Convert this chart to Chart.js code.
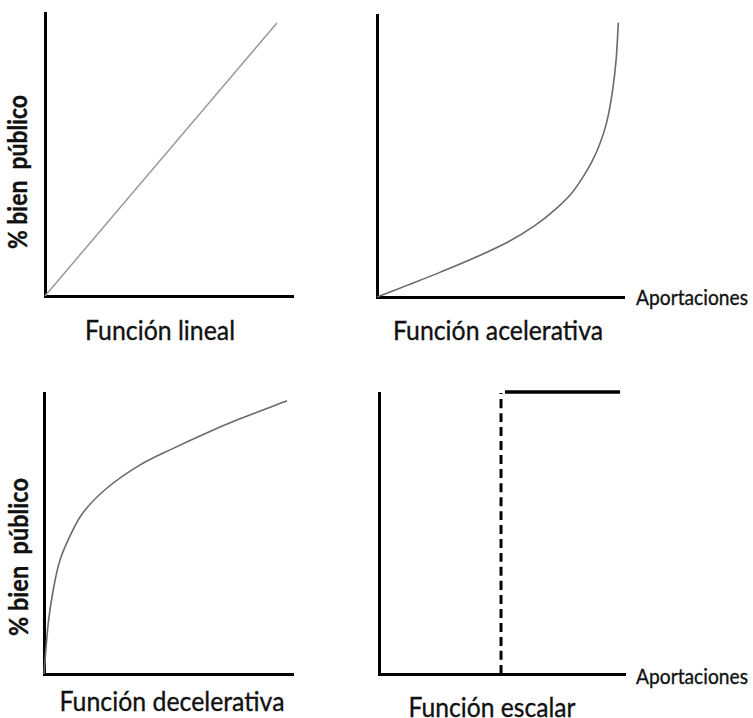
<!DOCTYPE html>
<html>
<head>
<meta charset="utf-8">
<script src="https://cdn.jsdelivr.net/npm/chart.js@4.4.1/dist/chart.umd.min.js"></script>
<style>
  html, body { margin: 0; padding: 0; background: #fff; }
  #page { position: relative; width: 753px; height: 718px; overflow: hidden; background: #fff; }
  .panel { position: absolute; }
  .lbl { position: absolute; font-family: Lato, "Open Sans", sans-serif; color: #111; white-space: pre; line-height: 1; -webkit-text-stroke: 0.35px #111; }
</style>
</head>
<body>
<div id="page"></div>
<script>
// ---- data (axes run 0..100 in both directions) ----
const panelTitles = ['Función lineal', 'Función acelerativa', 'Función decelerativa', 'Función escalar'];
const yAxisLabel = '% bien  público';
const xAxisLabel = 'Aportaciones';

const linearX = [0, 93.5];
const linearY = [0, 96.5];

const accelX = [0, 12.7, 26.2, 39.7, 53.2, 64.0, 72.1, 78.8, 83.5, 87.0, 90.0, 93.0, 95.2, 96.8, 97.7];
const accelY = [0, 4.3, 9.0, 14.0, 19.6, 25.4, 31.0, 36.8, 42.7, 48.0, 53.8, 62.0, 72.2, 84.0, 97.3];

const decelX = [0, 1.7, 3.7, 6.4, 10.8, 15.8, 25.2, 38.6, 51.9, 65.3, 78.7, 97.6];
const decelY = [0, 18.0, 29.9, 40.5, 49.8, 57.6, 66.1, 74.4, 80.3, 85.8, 90.8, 97.2];

const stepDashX = [49.6, 49.6];
const stepDashY = [0, 100];
const stepTopX = [51.2, 98];
const stepTopY = [100.4, 100.4];

const PAD = 6;
const SQUEEZE = 1.12; // the original face is narrower than Lato
const page = document.getElementById('page');

const toPts = (xs, ys) => xs.map((x, i) => ({ x: x, y: ys[i] }));

function axisOpts() {
  return {
    type: 'linear', min: 0, max: 100,
    grid: { display: false, drawTicks: false },
    ticks: { display: false },
    border: { display: true, color: '#000', width: 3 }
  };
}

// area = the plot rectangle in page pixels {l, t, r, b}
function makePanel(area, datasets) {
  const div = document.createElement('div');
  div.className = 'panel';
  div.style.left = (area.l - PAD) + 'px';
  div.style.top = (area.t - PAD) + 'px';
  div.style.width = (area.r - area.l + 2 * PAD) + 'px';
  div.style.height = (area.b - area.t + 2 * PAD) + 'px';
  const canvas = document.createElement('canvas');
  div.appendChild(canvas);
  page.appendChild(div);

  new Chart(canvas.getContext('2d'), {
    type: 'line',
    data: { datasets: datasets },
    options: {
      responsive: true,
      maintainAspectRatio: false,
      animation: false,
      layout: { padding: PAD },
      plugins: { legend: { display: false }, tooltip: { enabled: false } },
      elements: { point: { radius: 0 } },
      scales: { x: axisOpts(), y: axisOpts() }
    }
  });
}

function curve(xs, ys, color, width, extra) {
  return Object.assign({
    data: toPts(xs, ys),
    borderColor: color,
    borderWidth: width,
    fill: false,
    clip: false,
    tension: 0.35
  }, extra || {});
}

// fit a label's font size so its rendered width matches the target
const measureCtx = document.createElement('canvas').getContext('2d');
function fitSize(text, weight, target) {
  measureCtx.font = weight + ' 20px Lato, "Open Sans", sans-serif';
  return 20 * target / measureCtx.measureText(text).width;
}

function label(text, cx, cy, target, weight, rotate) {
  const d = document.createElement('div');
  d.className = 'lbl';
  d.textContent = text;
  d.style.left = cx + 'px';
  d.style.top = cy + 'px';
  d.style.fontWeight = weight;
  d.style.fontSize = (fitSize(text, weight, target) * SQUEEZE).toFixed(2) + 'px';
  d.style.transform = 'translate(-50%, -50%)' + (rotate ? ' rotate(-90deg)' : '') +
    ' scaleX(' + (1 / SQUEEZE).toFixed(3) + ')';
  page.appendChild(d);
}

makePanel({ l: 45, t: 13, r: 293, b: 296 }, [curve(linearX, linearY, '#9a9a9a', 1.5)]);
makePanel({ l: 377, t: 15, r: 624, b: 297 }, [curve(accelX, accelY, '#6a6a6a', 1.6)]);
makePanel({ l: 44, t: 393, r: 293, b: 674 }, [curve(decelX, decelY, '#6a6a6a', 1.6)]);
makePanel({ l: 379, t: 393, r: 625, b: 674 }, [
  curve(stepDashX, stepDashY, '#000', 3, { borderDash: [9, 5] }),
  curve(stepTopX, stepTopY, '#000', 3.5)
]);

label(panelTitles[0], 160, 330, 150, 'normal');
label(panelTitles[1], 498, 330, 210, 'normal');
label(panelTitles[2], 172, 701, 225, 'normal');
label(panelTitles[3], 492, 707, 167, 'normal');

label(xAxisLabel, 692, 298, 112, 'normal');
label(xAxisLabel, 692, 677, 112, 'normal');

label(yAxisLabel, 18, 172, 154, 'bold', true);
label(yAxisLabel, 18, 557, 158, 'bold', true);
</script>
</body>
</html>
